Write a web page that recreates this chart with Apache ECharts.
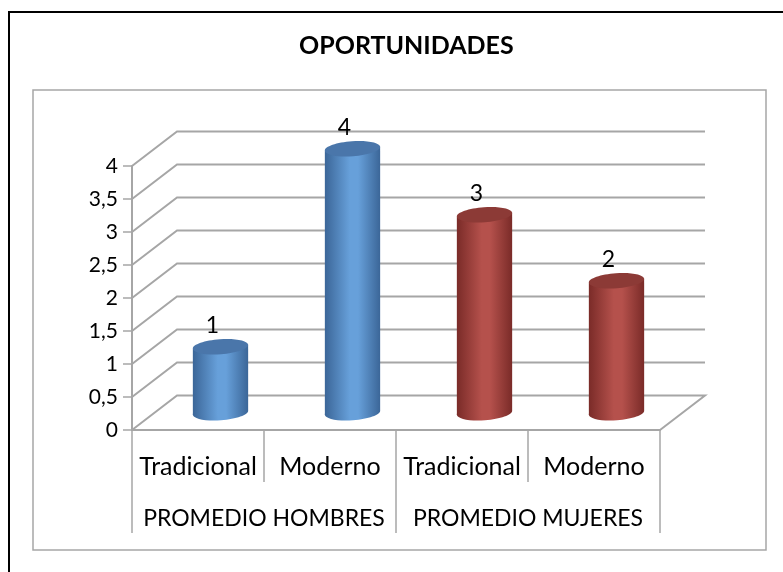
<!DOCTYPE html>
<html>
<head>
<meta charset="utf-8">
<script src="https://cdn.jsdelivr.net/npm/echarts@6/dist/echarts.min.js"></script>
<style>
  html, body { margin: 0; padding: 0; background: #fff; }
  #chart { width: 783px; height: 572px; }
</style>
</head>
<body>
<div id="chart"></div>
<script>
const categories = ['Tradicional', 'Moderno', 'Tradicional', 'Moderno']
const groups = ['PROMEDIO HOMBRES', 'PROMEDIO MUJERES']
const values = [1, 4, 3, 2]
const yTicks = [0, 0.5, 1, 1.5, 2, 2.5, 3, 3.5, 4]

const FONT = 'Lato, "Open Sans", sans-serif'
const GRAY = '#a6a6a6'
// depth of the fake 3d box
const DX = 45
const DY = 34.5

// 0,1 blue (hombres), 2,3 red (mujeres)
const barStyles = [
  { dark: '#3b6698', light: '#67a0da', top: '#4a76aa' },
  { dark: '#3b6698', light: '#67a0da', top: '#4a76aa' },
  { dark: '#7a2b28', light: '#b5514c', top: '#8c3a36' },
  { dark: '#7a2b28', light: '#b5514c', top: '#8c3a36' }
]

function bodyFill(s) {
  return new echarts.graphic.LinearGradient(0, 0, 1, 0, [
    { offset: 0, color: s.dark },
    { offset: 0.45, color: s.light },
    { offset: 0.6, color: s.light },
    { offset: 1, color: s.dark }
  ])
}

const myChart = echarts.init(document.getElementById('chart'))

const option = {
  animation: false,
  title: {
    text: 'OPORTUNIDADES',
    left: 294,
    top: 28,
    textStyle: { fontFamily: FONT, fontSize: 25, fontWeight: 'bold', color: '#000' }
  },
  graphic: [
    { type: 'rect', shape: { x: 9, y: 12, width: 800, height: 600 }, style: { fill: 'none', stroke: '#000', lineWidth: 2 }, silent: true },
    { type: 'rect', shape: { x: 33, y: 90, width: 733, height: 460 }, style: { fill: 'none', stroke: GRAY, lineWidth: 1.5 }, silent: true }
  ],
  grid: { left: 132, right: 123, top: 166, bottom: 142 },
  xAxis: [
    {
      type: 'category',
      data: categories,
      position: 'bottom',
      axisLine: { show: true, lineStyle: { color: GRAY, width: 2 } },
      axisTick: { show: true, length: 52, interval: 0, alignWithLabel: false, lineStyle: { color: GRAY, width: 1.5 } },
      axisLabel: { interval: 0, margin: 24, fontSize: 25, color: '#000', fontFamily: FONT }
    },
    {
      type: 'category',
      data: groups,
      position: 'bottom',
      axisLine: { show: false },
      axisTick: { show: true, length: 103, interval: 0, alignWithLabel: false, lineStyle: { color: GRAY, width: 1.5 } },
      axisLabel: { interval: 0, margin: 77, fontSize: 23, color: '#000', fontFamily: FONT }
    }
  ],
  yAxis: {
    type: 'value',
    min: 0,
    max: 4,
    interval: 0.5,
    axisLine: { show: true, lineStyle: { color: GRAY, width: 2 } },
    axisTick: { show: true, length: 9, lineStyle: { color: GRAY, width: 1.5 } },
    splitLine: { show: false },
    axisLabel: {
      margin: 14,
      fontSize: 21,
      color: '#000',
      fontFamily: FONT,
      formatter: v => String(v).replace('.', ',')
    }
  },
  series: [
    {
      // walls and floor
      type: 'custom',
      silent: true,
      z: 1,
      data: yTicks.map(v => [0, v]),
      renderItem: function (params, api) {
        const cs = params.coordSys
        const y = api.coord([0, api.value(1)])[1]
        const x0 = cs.x
        const x1 = cs.x + cs.width
        const pts = [[x0, y], [x0 + DX, y - DY], [x1 + DX, y - DY]]
        if (api.value(1) === 0) pts.push([x1, y])
        return {
          type: 'polyline',
          shape: { points: pts },
          style: { fill: 'none', stroke: GRAY, lineWidth: 2 }
        }
      }
    },
    {
      // cylinders
      type: 'custom',
      z: 3,
      data: values.map((v, i) => [i, v]),
      renderItem: function (params, api) {
        const i = api.value(0)
        const v = api.value(1)
        const base = api.coord([i, 0])
        const top = api.coord([i, v])
        const bw = api.size([1, 0])[0]
        const a = bw * 0.21
        const ry = 7.5
        const rot = 0.07
        const sx = a * Math.cos(rot)
        const sy = a * Math.sin(rot)
        const cx = base[0] + DX / 2
        const by = base[1] - DY / 2
        const ty = top[1] - DY / 2
        const s = barStyles[i]
        return {
          type: 'group',
          children: [
            {
              type: 'ellipse',
              x: cx, y: by, rotation: rot,
              shape: { cx: 0, cy: 0, rx: a, ry: ry },
              style: { fill: bodyFill(s) }
            },
            {
              type: 'polygon',
              shape: { points: [[cx - sx, ty + sy], [cx + sx, ty - sy], [cx + sx, by - sy], [cx - sx, by + sy]] },
              style: { fill: bodyFill(s) }
            },
            {
              type: 'ellipse',
              x: cx, y: ty, rotation: rot,
              shape: { cx: 0, cy: 0, rx: a, ry: ry },
              style: { fill: s.top }
            },
            {
              type: 'text',
              x: cx - 8,
              y: ty - 21,
              style: {
                text: String(v),
                fill: '#000',
                fontSize: 23,
                fontFamily: FONT,
                align: 'center',
                verticalAlign: 'middle'
              }
            }
          ]
        }
      }
    }
  ]
}

myChart.setOption(option)
</script>
</body>
</html>
